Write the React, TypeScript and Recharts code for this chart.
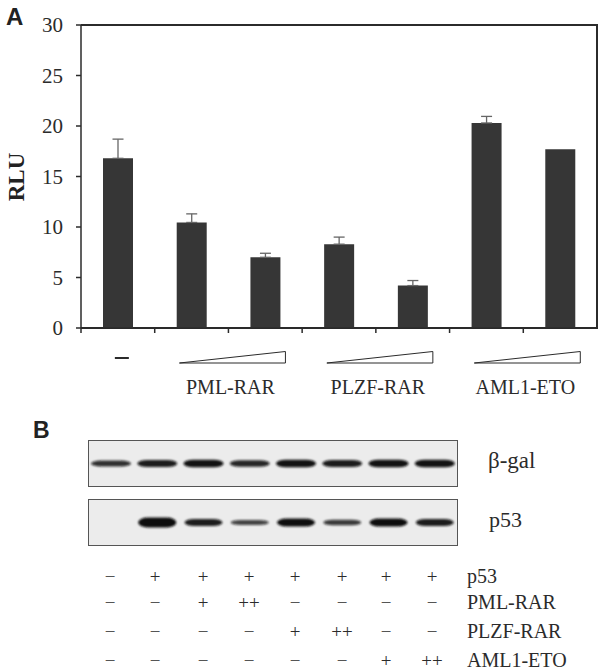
import React from 'react';
import { BarChart, Bar, XAxis, YAxis, ErrorBar } from 'recharts';

// ---------- Panel A data ----------
const conditions = ['none', 'PML-RAR +', 'PML-RAR ++', 'PLZF-RAR +', 'PLZF-RAR ++', 'AML1-ETO +', 'AML1-ETO ++'];
const rluValues = [16.8, 10.45, 7.0, 8.3, 4.2, 20.3, 17.7];
const rluErrors: (number | null)[] = [1.9, 0.85, 0.4, 0.7, 0.5, 0.65, null];
const yTicks = [0, 5, 10, 15, 20, 25, 30];
const groupLabels = ['PML-RAR', 'PLZF-RAR', 'AML1-ETO'];
const boundaryTicks = [0, 0.5, 1, 2, 3, 4, 5, 6];

// ---------- Panel B data ----------
const lanes = ['1', '2', '3', '4', '5', '6', '7', '8'];
const betaGalSignal = [6, 7, 7.5, 6.5, 7.5, 7, 7.5, 7.5];
const p53Signal = [0, 10, 7, 5, 8, 5.5, 8, 7];
const tableLabels = ['p53', 'PML-RAR', 'PLZF-RAR', 'AML1-ETO'];
const tableRows = [
  ['−', '+', '+', '+', '+', '+', '+', '+'],
  ['−', '−', '+', '++', '−', '−', '−', '−'],
  ['−', '−', '−', '−', '+', '++', '−', '−'],
  ['−', '−', '−', '−', '−', '−', '+', '++'],
];

const rluData = conditions.map((name, i) => ({
  name,
  pos: i + 0.5,
  rlu: rluValues[i],
  err: rluErrors[i] == null ? null : [0, rluErrors[i] as number],
}));
const betaGalData = lanes.map((lane, i) => ({ lane, signal: betaGalSignal[i] }));
const p53Data = lanes.map((lane, i) => ({ lane, signal: p53Signal[i] }));

const SERIF = "'Liberation Serif', 'Times New Roman', Times, serif";
const SANS = "'Liberation Sans', Arial, Helvetica, sans-serif";
const INK = '#2b2b2b';

// plot frame layout
const PLOT_LEFT = 81;
const PLOT_RIGHT = 597;
const PLOT_TOP = 25;
const PLOT_BOTTOM = 328;

const BoundaryTick = (props: any) => {
  const { x, y, payload } = props;
  const v = payload.value as number;
  const parts: React.ReactNode[] = [];
  if (Number.isInteger(v) && v < 7) {
    parts.push(<line key="t" x1={x} x2={x} y1={y} y2={y + 5} stroke={INK} strokeWidth={1.5} />);
  }
  if (v === 0.5) {
    parts.push(<line key="d" x1={x - 3} x2={x + 11} y1={y + 30} y2={y + 30} stroke={INK} strokeWidth={2} />);
  }
  if (v === 2 || v === 4 || v === 6) {
    const label = groupLabels[v / 2 - 1];
    parts.push(
      <polygon
        key="w"
        points={`${x - 49},${y + 35} ${x + 57},${y + 35} ${x + 57},${y + 23.5}`}
        fill="#fff"
        stroke={INK}
        strokeWidth={1}
      />
    );
    parts.push(
      <text key="l" x={x + 2} y={y + 66} textAnchor="middle" style={{ fontFamily: SERIF }} fontSize={20} fill={INK}>
        {label}
      </text>
    );
  }
  return <g>{parts}</g>;
};

const BandShape = (props: any) => {
  const { x, y, width, height, payload } = props;
  if (!height || height <= 0) return null;
  const cy = (y + height) / 2;
  const op = Math.min(1, 0.35 + payload.signal / 12);
  return (
    <g>
      <defs>
        <filter id="bandBlur" x="-20%" y="-80%" width="140%" height="260%">
          <feGaussianBlur stdDeviation="1.1" />
        </filter>
      </defs>
      <rect
        x={x}
        y={cy - height / 2}
        width={width}
        height={height}
        rx={width * 0.25}
        ry={height / 2}
        fill="#111"
        fillOpacity={op}
        filter="url(#bandBlur)"
      />
    </g>
  );
};

const blotBox = (top: number): React.CSSProperties => ({
  position: 'absolute',
  left: 88,
  top,
  width: 370,
  height: 47,
  background: '#ececec',
  border: '1.5px solid #555',
  boxSizing: 'border-box',
});

const tableCols = [110, 155, 203, 249, 295, 342, 386, 432];
const rowCenters = [576, 602.5, 631, 660];

const serifText = { fontFamily: SERIF };

export default function App() {
  return (
    <div style={{ position: 'absolute', left: 0, top: 0, width: 600, height: 671, background: '#fff', overflow: 'hidden' }}>
      <div
        style={{
          position: 'absolute',
          left: PLOT_LEFT,
          top: PLOT_TOP - 1,
          width: PLOT_RIGHT - PLOT_LEFT + 1,
          height: PLOT_BOTTOM - PLOT_TOP + 2,
          borderTop: `2px solid ${INK}`,
          borderRight: `2px solid ${INK}`,
          borderBottom: `2px solid ${INK}`,
          boxSizing: 'border-box',
        }}
      />
      <div style={{ position: 'absolute', left: 0, top: 0 }}>
        <BarChart width={600} height={405} data={rluData} margin={{ top: 25, right: 3, bottom: 0, left: 0 }}>
          <XAxis
            dataKey="pos"
            type="number"
            domain={[0, 7]}
            allowDataOverflow
            ticks={boundaryTicks}
            interval={0}
            height={77}
            tickSize={0}
            tickMargin={0}
            tickLine={false}
            axisLine={{ stroke: INK, strokeWidth: 1.5 }}
            tick={<BoundaryTick />}
          />
          <YAxis
            domain={[0, 30]}
            ticks={yTicks}
            width={81}
            tickSize={5}
            tickMargin={13}
            interval={0}
            axisLine={{ stroke: INK, strokeWidth: 1.5 }}
            tickLine={{ stroke: INK, strokeWidth: 1.5 }}
            tick={{ fontSize: 21, fill: INK, style: serifText }}
          />
          <Bar dataKey="rlu" fill="#363636" barSize={30} isAnimationActive={false}>
            <ErrorBar dataKey="err" direction="y" width={5.5} stroke="#666" strokeWidth={1.3} />
          </Bar>
        </BarChart>
      </div>

      <div style={blotBox(440)} />
      <div style={{ position: 'absolute', left: 88, top: 440 }}>
        <BarChart width={370} height={47} data={betaGalData} margin={{ top: 0, right: 0, bottom: 0, left: 0 }}>
          <XAxis dataKey="lane" hide height={0} />
          <YAxis hide domain={[0, 47]} width={0} />
          <Bar dataKey="signal" barSize={40} shape={<BandShape />} isAnimationActive={false} />
        </BarChart>
      </div>

      <div style={blotBox(499)} />
      <div style={{ position: 'absolute', left: 88, top: 499 }}>
        <BarChart width={370} height={47} data={p53Data} margin={{ top: 0, right: 0, bottom: 0, left: 0 }}>
          <XAxis dataKey="lane" hide height={0} />
          <YAxis hide domain={[0, 47]} width={0} />
          <Bar dataKey="signal" barSize={38} shape={<BandShape />} isAnimationActive={false} />
        </BarChart>
      </div>

      <svg width={600} height={671} style={{ position: 'absolute', left: 0, top: 0, pointerEvents: 'none' }}>
        <text x={6} y={25} style={{ fontFamily: SANS }} fontWeight="bold" fontSize={24} fill="#222">A</text>
        <text
          x={16}
          y={177}
          transform="rotate(-90, 16, 177)"
          textAnchor="middle"
          dominantBaseline="central"
          style={serifText}
          fontWeight="bold"
          fontSize={23}
          fill="#222"
        >
          RLU
        </text>
        <text x={33} y={438} style={{ fontFamily: SANS }} fontWeight="bold" fontSize={23} fill="#222">B</text>
        <text x={488} y={468} style={serifText} fontSize={23} fill={INK}>β-gal</text>
        <text x={489} y={527} style={serifText} fontSize={22} fill={INK}>p53</text>

        {tableRows.map((row, r) => (
          <g key={r}>
            {row.map((s, c) => (
              <text
                key={c}
                x={tableCols[c]}
                y={rowCenters[r]}
                textAnchor="middle"
                dominantBaseline="central"
                style={serifText}
                fontSize={19}
                fill={s === '−' ? '#555' : INK}
              >
                {s}
              </text>
            ))}
            <text x={467} y={rowCenters[r] + 6.5} style={serifText} fontSize={20} fill={INK}>
              {tableLabels[r]}
            </text>
          </g>
        ))}
      </svg>
    </div>
  );
}
